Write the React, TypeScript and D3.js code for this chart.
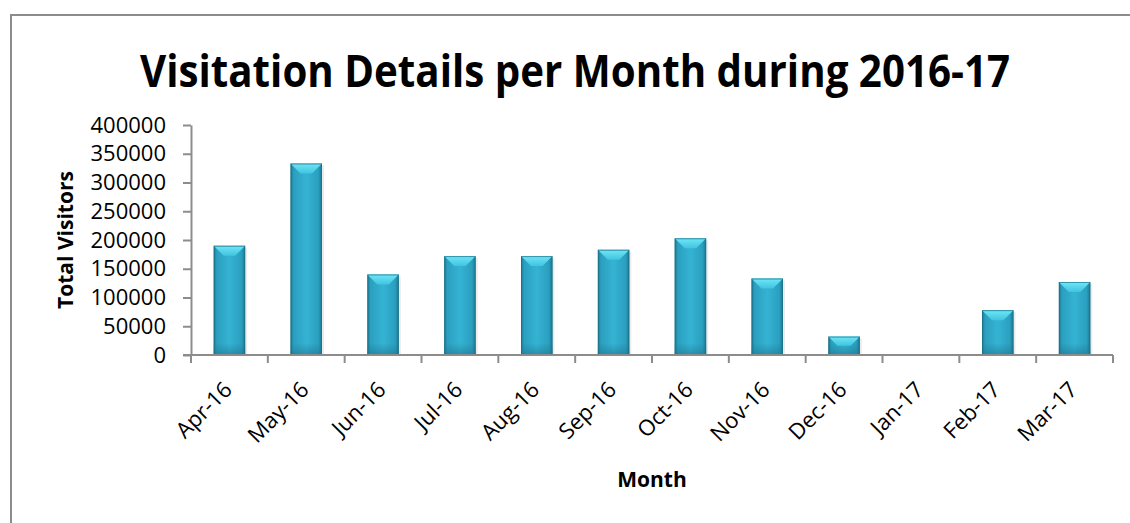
import React, { useRef, useEffect } from "react";
import * as d3 from "d3";

// values
const months = ["Apr-16", "May-16", "Jun-16", "Jul-16", "Aug-16", "Sep-16", "Oct-16", "Nov-16", "Dec-16", "Jan-17", "Feb-17", "Mar-17"];
const visitors = [190000, 333000, 140000, 172000, 172000, 183000, 203000, 133000, 32000, 0, 78000, 127000];
const yTicks = [0, 50000, 100000, 150000, 200000, 250000, 300000, 350000, 400000];

const W = 1130;
const H = 523;
const FONT = "'Open Sans', 'Liberation Sans', sans-serif";
const GRAY = "#8c8c8c";

function App() {
  const svgRef = useRef(null);

  useEffect(() => {
    const svg = d3.select(svgRef.current);
    svg.selectAll("*").remove();

    const x = d3.scaleBand().domain(months).range([191, 1113]).padding(0);
    const y = d3.scaleLinear().domain([0, 400000]).range([355, 125]);

    // gradients for the bevelled bars
    const defs = svg.append("defs");
    const body = defs.append("linearGradient").attr("id", "barBody").attr("x1", 0).attr("x2", 1).attr("y1", 0).attr("y2", 0);
    [["0%", "#1c7891"], ["10%", "#2b9fbf"], ["50%", "#35b3d3"], ["88%", "#2b9fbf"], ["100%", "#1c7891"]].forEach(([o, c]) =>
      body.append("stop").attr("offset", o).attr("stop-color", c)
    );
    const top = defs.append("linearGradient").attr("id", "barTop").attr("x1", 0).attr("x2", 0).attr("y1", 0).attr("y2", 1);
    top.append("stop").attr("offset", "0%").attr("stop-color", "#6fe6f7");
    top.append("stop").attr("offset", "100%").attr("stop-color", "#40c4e0");
    const bottom = defs.append("linearGradient").attr("id", "barBottom").attr("x1", 0).attr("x2", 0).attr("y1", 0).attr("y2", 1);
    bottom.append("stop").attr("offset", "0%").attr("stop-color", "#1c7891").attr("stop-opacity", 0);
    bottom.append("stop").attr("offset", "100%").attr("stop-color", "#1c7891").attr("stop-opacity", 0.6);

    // outer chart frame
    svg.append("rect")
      .attr("x", 11).attr("y", 15).attr("width", W).attr("height", H)
      .attr("fill", "white").attr("stroke", GRAY).attr("stroke-width", 2);

    // title
    svg.append("text")
      .attr("x", 575).attr("y", 87)
      .attr("text-anchor", "middle")
      .attr("font-family", FONT).attr("font-weight", "bold").attr("font-size", 44)
      .attr("textLength", 870).attr("lengthAdjust", "spacingAndGlyphs")
      .text("Visitation Details per Month during 2016-17");

    // bars
    const barW = x.bandwidth() * 0.41;
    const bars = svg.append("g").selectAll("g").data(months.map((m, i) => ({ m, v: visitors[i] })).filter((d) => d.v > 0)).join("g");
    bars.each(function (d) {
      const g = d3.select(this);
      const bx = x(d.m) + (x.bandwidth() - barW) / 2;
      const by = y(d.v);
      const bh = y(0) - by;
      const bev = Math.min(10, bh / 2);
      g.append("rect").attr("x", bx + 2).attr("y", by + 2).attr("width", barW).attr("height", bh - 2).attr("fill", "#000").attr("opacity", 0.08);
      g.append("rect").attr("x", bx).attr("y", by).attr("width", barW).attr("height", bh).attr("fill", "url(#barBody)");
      g.append("rect").attr("x", bx).attr("y", y(0) - Math.min(12, bh)).attr("width", barW).attr("height", Math.min(12, bh)).attr("fill", "url(#barBottom)");
      g.append("polygon")
        .attr("points", [[bx, by], [bx + barW, by], [bx + barW - bev, by + bev], [bx + bev, by + bev]].map((p) => p.join(",")).join(" "))
        .attr("fill", "url(#barTop)");
      g.append("rect").attr("x", bx + 0.5).attr("y", by + 0.5).attr("width", barW - 1).attr("height", bh - 1)
        .attr("fill", "none").attr("stroke", "#1a6f86").attr("stroke-width", 1).attr("opacity", 0.7);
    });

    // y axis
    const yAxis = svg.append("g")
      .attr("transform", "translate(191,0)")
      .call(d3.axisLeft(y).tickValues(yTicks).tickFormat(d3.format("d")).tickSize(8).tickSizeOuter(0).tickPadding(17));
    yAxis.select(".domain").attr("stroke", GRAY).attr("stroke-width", 2);
    yAxis.selectAll(".tick line").attr("stroke", GRAY).attr("stroke-width", 2);
    yAxis.selectAll("text").attr("font-family", FONT).attr("font-size", 22).attr("fill", "#000");

    // x axis: line plus ticks on the category boundaries
    const xg = svg.append("g");
    xg.append("line").attr("x1", 183).attr("x2", x.range()[1]).attr("y1", y(0)).attr("y2", y(0)).attr("stroke", GRAY).attr("stroke-width", 2);
    const edges = months.map((m) => x(m)).concat([x.range()[1]]);
    xg.selectAll(".edge").data(edges).join("line")
      .attr("x1", (d) => d).attr("x2", (d) => d)
      .attr("y1", y(0)).attr("y2", y(0) + 8)
      .attr("stroke", GRAY).attr("stroke-width", 2);
    xg.selectAll(".lbl").data(months).join("text")
      .attr("transform", (d) => `translate(${x(d) + x.bandwidth() / 2 + 4},${y(0) + 36}) rotate(-45)`)
      .attr("text-anchor", "end")
      .attr("font-family", FONT).attr("font-size", 22)
      .text((d) => d);

    // axis titles
    svg.append("text")
      .attr("x", (x.range()[0] + x.range()[1]) / 2).attr("y", 487)
      .attr("text-anchor", "middle")
      .attr("font-family", FONT).attr("font-weight", "bold").attr("font-size", 21)
      .text("Month");
    svg.append("text")
      .attr("transform", `translate(73,${(y(0) + y(400000)) / 2}) rotate(-90)`)
      .attr("text-anchor", "middle")
      .attr("font-family", FONT).attr("font-weight", "bold").attr("font-size", 21)
      .text("Total Visitors");
  }, []);

  return (
    <svg ref={svgRef} width={W} height={H} style={{ position: "absolute", left: 0, top: 0, background: "white" }} />
  );
}

export default App;
